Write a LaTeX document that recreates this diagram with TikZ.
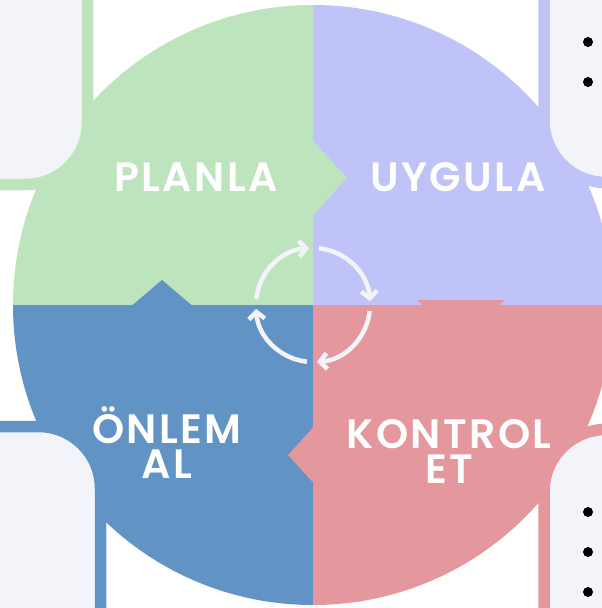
\documentclass[tikz,border=0pt]{standalone}
\usepackage{fontspec}
\setmainfont{Poppins}
\newfontfamily\stepfont{Poppins SemiBold}[LetterSpace=6]
\usetikzlibrary{arrows.meta}
\definecolor{planGreen}{RGB}{189,228,189}
\definecolor{doPurple}{RGB}{192,195,247}
\definecolor{actBlue}{RGB}{97,147,196}
\definecolor{checkRed}{RGB}{229,151,158}
\definecolor{panelGrey}{RGB}{243,244,250}
\begin{document}
\begin{tikzpicture}[x=1pt,y=-1pt,
    steplabel/.style={text=white,font=\fontsize{41}{35}\stepfont,align=center,inner sep=0pt},
    panel/.style={fill=panelGrey,line width=11.5pt,rounded corners=62pt},
    cycarrow/.style={draw=panelGrey,line width=4.5pt,-{Straight Barb[length=7pt,width=16pt]}}]
    \useasboundingbox (0,0) rectangle (602,608);
    \clip (0,0) rectangle (602,608);
    \coordinate (c) at (313,305);
    \begin{scope}
        \clip (c) circle[radius=300pt];
        \fill[planGreen] (0,0) rectangle (c);
        \fill[doPurple] (313,0) rectangle (620,305);
        \fill[actBlue] (0,305) rectangle (313,620);
        \fill[checkRed] (c) rectangle (620,620);
        \fill[actBlue] (132,305.5) -- (162,280) -- (192,305.5) -- cycle;
        \fill[planGreen] (312.5,140) -- (347,178) -- (312.5,216) -- cycle;
        \fill[checkRed] (417,300) -- (505,300) -- (499,305.5) -- (423,305.5) -- cycle;
        \fill[checkRed] (313.5,427) -- (288,455) -- (313.5,483) -- cycle;
    \end{scope}
    \foreach \a in {0,90,180,270}
        \draw[cycarrow] (c) ++(84-\a:57pt) arc[start angle=84-\a, end angle=4-\a, radius=57pt];
    \node[steplabel] (plan) at (196,177.5) {PLANLA};
    \node[steplabel] (apply) at (458,177.5) {UYGULA};
    \node[steplabel] (prevent) at (167,443) {ÖNLEM\\AL};
    \node[steplabel] (check) at (449,451) {KONTROL\\ET};
    \draw[panel,draw=planGreen] (-100,-100) rectangle (87.5,184.5);
    \draw[panel,draw=doPurple] (544,-100) rectangle (700,182.5);
    \draw[panel,draw=actBlue] (-100,426.5) rectangle (100.5,700);
    \draw[panel,draw=checkRed] (544,429.5) rectangle (700,700);
    \foreach \y in {42,82,512,552,592}
        \fill (588,\y) circle[radius=5pt];
\end{tikzpicture}
\end{document}
